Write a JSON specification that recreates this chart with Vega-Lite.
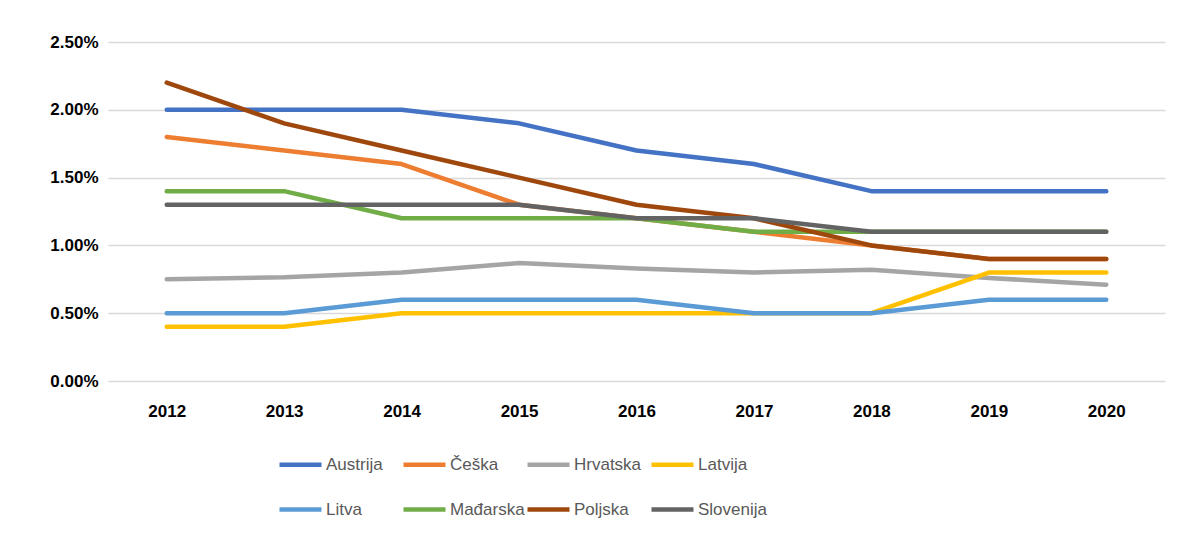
{
  "$schema": "https://vega.github.io/schema/vega-lite/v6.json",
  "width": 1057,
  "height": 339,
  "autosize": {"type": "none"},
  "padding": {"left": 108, "top": 42, "right": 17, "bottom": 155},
  "background": "white",
  "config": {
    "view": {"stroke": null},
    "font": "Liberation Sans"
  },
  "data": {
    "values": [
      {"year": "2012", "country": "Austrija", "value": 0.020},
      {"year": "2013", "country": "Austrija", "value": 0.020},
      {"year": "2014", "country": "Austrija", "value": 0.020},
      {"year": "2015", "country": "Austrija", "value": 0.019},
      {"year": "2016", "country": "Austrija", "value": 0.017},
      {"year": "2017", "country": "Austrija", "value": 0.016},
      {"year": "2018", "country": "Austrija", "value": 0.014},
      {"year": "2019", "country": "Austrija", "value": 0.014},
      {"year": "2020", "country": "Austrija", "value": 0.014},
      {"year": "2012", "country": "Češka", "value": 0.018},
      {"year": "2013", "country": "Češka", "value": 0.017},
      {"year": "2014", "country": "Češka", "value": 0.016},
      {"year": "2015", "country": "Češka", "value": 0.013},
      {"year": "2016", "country": "Češka", "value": 0.012},
      {"year": "2017", "country": "Češka", "value": 0.011},
      {"year": "2018", "country": "Češka", "value": 0.010},
      {"year": "2019", "country": "Češka", "value": 0.009},
      {"year": "2020", "country": "Češka", "value": 0.009},
      {"year": "2012", "country": "Hrvatska", "value": 0.0075},
      {"year": "2013", "country": "Hrvatska", "value": 0.00765},
      {"year": "2014", "country": "Hrvatska", "value": 0.0080},
      {"year": "2015", "country": "Hrvatska", "value": 0.0087},
      {"year": "2016", "country": "Hrvatska", "value": 0.0083},
      {"year": "2017", "country": "Hrvatska", "value": 0.0080},
      {"year": "2018", "country": "Hrvatska", "value": 0.0082},
      {"year": "2019", "country": "Hrvatska", "value": 0.0076},
      {"year": "2020", "country": "Hrvatska", "value": 0.0071},
      {"year": "2012", "country": "Latvija", "value": 0.004},
      {"year": "2013", "country": "Latvija", "value": 0.004},
      {"year": "2014", "country": "Latvija", "value": 0.005},
      {"year": "2015", "country": "Latvija", "value": 0.005},
      {"year": "2016", "country": "Latvija", "value": 0.005},
      {"year": "2017", "country": "Latvija", "value": 0.005},
      {"year": "2018", "country": "Latvija", "value": 0.005},
      {"year": "2019", "country": "Latvija", "value": 0.008},
      {"year": "2020", "country": "Latvija", "value": 0.008},
      {"year": "2012", "country": "Litva", "value": 0.005},
      {"year": "2013", "country": "Litva", "value": 0.005},
      {"year": "2014", "country": "Litva", "value": 0.006},
      {"year": "2015", "country": "Litva", "value": 0.006},
      {"year": "2016", "country": "Litva", "value": 0.006},
      {"year": "2017", "country": "Litva", "value": 0.005},
      {"year": "2018", "country": "Litva", "value": 0.005},
      {"year": "2019", "country": "Litva", "value": 0.006},
      {"year": "2020", "country": "Litva", "value": 0.006},
      {"year": "2012", "country": "Mađarska", "value": 0.014},
      {"year": "2013", "country": "Mađarska", "value": 0.014},
      {"year": "2014", "country": "Mađarska", "value": 0.012},
      {"year": "2015", "country": "Mađarska", "value": 0.012},
      {"year": "2016", "country": "Mađarska", "value": 0.012},
      {"year": "2017", "country": "Mađarska", "value": 0.011},
      {"year": "2018", "country": "Mađarska", "value": 0.011},
      {"year": "2019", "country": "Mađarska", "value": 0.011},
      {"year": "2020", "country": "Mađarska", "value": 0.011},
      {"year": "2012", "country": "Poljska", "value": 0.022},
      {"year": "2013", "country": "Poljska", "value": 0.019},
      {"year": "2014", "country": "Poljska", "value": 0.017},
      {"year": "2015", "country": "Poljska", "value": 0.015},
      {"year": "2016", "country": "Poljska", "value": 0.013},
      {"year": "2017", "country": "Poljska", "value": 0.012},
      {"year": "2018", "country": "Poljska", "value": 0.010},
      {"year": "2019", "country": "Poljska", "value": 0.009},
      {"year": "2020", "country": "Poljska", "value": 0.009},
      {"year": "2012", "country": "Slovenija", "value": 0.013},
      {"year": "2013", "country": "Slovenija", "value": 0.013},
      {"year": "2014", "country": "Slovenija", "value": 0.013},
      {"year": "2015", "country": "Slovenija", "value": 0.013},
      {"year": "2016", "country": "Slovenija", "value": 0.012},
      {"year": "2017", "country": "Slovenija", "value": 0.012},
      {"year": "2018", "country": "Slovenija", "value": 0.011},
      {"year": "2019", "country": "Slovenija", "value": 0.011},
      {"year": "2020", "country": "Slovenija", "value": 0.011}
    ]
  },
  "mark": {"type": "line", "strokeWidth": 4.5, "strokeCap": "round", "strokeJoin": "round"},
  "encoding": {
    "x": {
      "field": "year",
      "type": "ordinal",
      "scale": {"type": "point", "padding": 0.5},
      "axis": {
        "title": null,
        "labelAngle": 0,
        "domain": false,
        "ticks": false,
        "labelPadding": 22,
        "labelFont": "Liberation Sans",
        "labelFontWeight": "bold",
        "labelFontSize": 17,
        "labelColor": "#000000"
      }
    },
    "y": {
      "field": "value",
      "type": "quantitative",
      "scale": {"domain": [0, 0.025], "nice": false},
      "axis": {
        "title": null,
        "format": ".2%",
        "values": [0, 0.005, 0.01, 0.015, 0.02, 0.025],
        "domain": false,
        "ticks": false,
        "labelPadding": 10,
        "labelFont": "Liberation Sans",
        "labelFontWeight": "bold",
        "labelFontSize": 17,
        "labelColor": "#000000",
        "gridColor": "#D9D9D9",
        "gridWidth": 1.3
      }
    },
    "color": {
      "field": "country",
      "type": "nominal",
      "scale": {
        "domain": ["Austrija", "Češka", "Hrvatska", "Latvija", "Litva", "Mađarska", "Poljska", "Slovenija"],
        "range": ["#4472C4", "#ED7D31", "#A5A5A5", "#FFC000", "#5B9BD5", "#70AD47", "#9E480E", "#636363"]
      },
      "legend": {
        "title": null,
        "orient": "none",
        "legendX": 169,
        "legendY": 399,
        "direction": "horizontal",
        "columns": 4,
        "gridAlign": "all",
        "symbolType": "stroke",
        "symbolSize": 1764,
        "symbolStrokeWidth": 4.5,
        "labelFont": "Liberation Sans",
        "labelFontSize": 17,
        "labelColor": "#595959",
        "labelOffset": 2,
        "columnPadding": -8,
        "rowPadding": 12
      }
    }
  }
}
